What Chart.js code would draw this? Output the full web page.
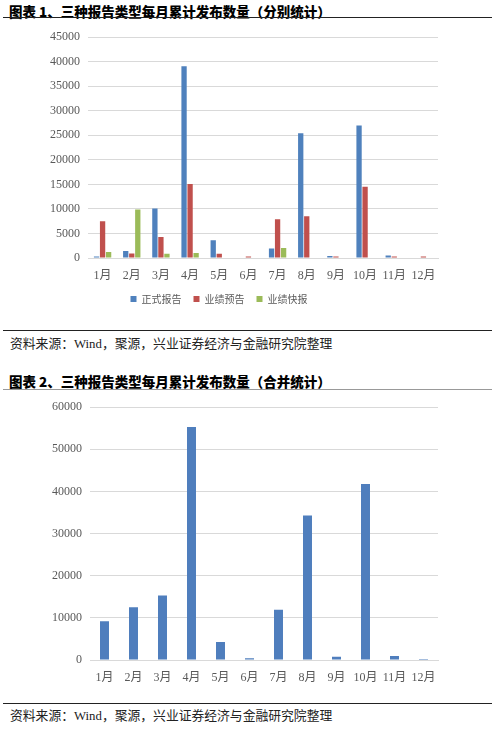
<!DOCTYPE html>
<html>
<head>
<meta charset="utf-8">
<script src="https://cdn.jsdelivr.net/npm/chart.js@4"></script>
<style>
  body { margin: 0; width: 500px; height: 733px; background: #fff; position: relative; overflow: hidden; }
  .title { position: absolute; left: 9px; font: 900 13.5px "Noto Sans CJK SC", sans-serif; color: #000; white-space: nowrap; }
  .rule { position: absolute; left: 3px; width: 489px; height: 0; border-top: 1.5px solid #222; }
  .source { position: absolute; left: 10px; font: 12.8px "Liberation Serif", "Noto Sans CJK SC", serif; color: #222; white-space: nowrap; }
  canvas { position: absolute; left: 0; }
</style>
</head>
<body>
<div class="title" style="top:1px">图表 1、三种报告类型每月累计发布数量（分别统计）</div>
<div class="rule" style="top:17px"></div>
<canvas id="c1" style="top:22px"></canvas>
<div class="rule" style="top:330px"></div>
<div class="source" style="top:333px">资料来源：Wind，聚源，兴业证券经济与金融研究院整理</div>

<div class="title" style="top:371px">图表 2、三种报告类型每月累计发布数量（合并统计）</div>
<div class="rule" style="top:389px; border-top:1px solid #999"></div>
<canvas id="c2" style="top:392px"></canvas>
<div class="rule" style="top:703px"></div>
<div class="source" style="top:705px">资料来源：Wind，聚源，兴业证券经济与金融研究院整理</div>

<script>
const months = ["1月", "2月", "3月", "4月", "5月", "6月", "7月", "8月", "9月", "10月", "11月", "12月"];
const seriesNames = ["正式报告", "业绩预告", "业绩快报"];
const formal = [300, 1450, 10100, 39100, 3600, 0, 1950, 25450, 400, 27000, 500, 0];
const forecast = [7500, 900, 4300, 15100, 850, 300, 7900, 8500, 300, 14500, 300, 300];
const express = [1200, 9900, 850, 1000, 0, 0, 2050, 100, 0, 100, 0, 0];
const combined = [9200, 12500, 15300, 55300, 4300, 400, 11900, 34300, 800, 41800, 950, 250];
const ticks1 = [0, 5000, 10000, 15000, 20000, 25000, 30000, 35000, 40000, 45000];
const ticks2 = [0, 10000, 20000, 30000, 40000, 50000, 60000];

const tickFont = { family: "'Liberation Serif', 'Noto Sans CJK SC', serif", size: 12 };

function setupCanvas(id, w, h) {
  const cv = document.getElementById(id);
  cv.width = w; cv.height = h;
  cv.style.width = w + "px"; cv.style.height = h + "px";
  return cv.getContext("2d");
}

function yScale(tickValues, max, width) {
  return {
    min: 0, max: max,
    afterBuildTicks: s => { s.ticks = tickValues.map(v => ({ value: v })); },
    afterFit: s => { s.width = width; },
    border: { display: false },
    grid: { color: "#d9d9d9", lineWidth: 1, drawTicks: false },
    ticks: { color: "#595959", font: tickFont, padding: 8, callback: v => String(v) }
  };
}

function xScale() {
  return {
    afterFit: s => { s.height = 24; },
    border: { color: "#d9d9d9" },
    grid: { display: false },
    ticks: { color: "#595959", font: tickFont, padding: 3, maxRotation: 0 }
  };
}

new Chart(setupCanvas("c1", 500, 292), {
  type: "bar",
  data: {
    labels: months,
    datasets: [
      { label: seriesNames[0], data: formal, backgroundColor: "#4f81bd" },
      { label: seriesNames[1], data: forecast, backgroundColor: "#c0504d" },
      { label: seriesNames[2], data: express, backgroundColor: "#9bbb59" }
    ]
  },
  options: {
    responsive: false,
    animation: false,
    layout: { padding: { top: 8, right: 62, left: 0, bottom: 0 } },
    datasets: { bar: { categoryPercentage: 0.62, barPercentage: 0.88 } },
    scales: { x: xScale(), y: yScale(ticks1, 45000, 88) },
    plugins: {
      legend: {
        position: "bottom",
        labels: { boxWidth: 6, boxHeight: 6, padding: 12, color: "#595959",
                  font: { family: "'Noto Sans CJK SC', sans-serif", size: 10 } }
      },
      tooltip: { enabled: false }
    }
  }
});

new Chart(setupCanvas("c2", 500, 292), {
  type: "bar",
  data: {
    labels: months,
    datasets: [{ label: "合计", data: combined, backgroundColor: "#4f7ebd" }]
  },
  options: {
    responsive: false,
    animation: false,
    layout: { padding: { top: 14, right: 62, left: 0, bottom: 0 } },
    datasets: { bar: { categoryPercentage: 1, barPercentage: 0.31 } },
    scales: { x: xScale(), y: yScale(ticks2, 60000, 90) },
    plugins: { legend: { display: false }, tooltip: { enabled: false } }
  }
});
</script>
</body>
</html>
